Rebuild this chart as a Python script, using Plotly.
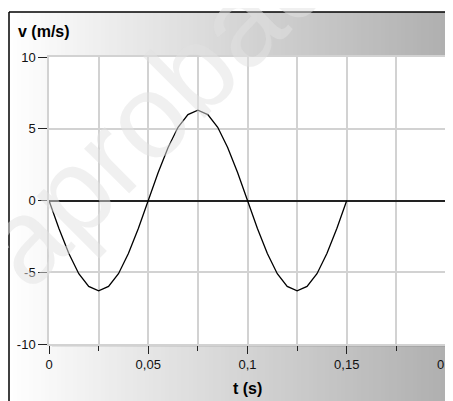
import plotly.graph_objects as go

# ---- data ----
t_values = [0.000, 0.005, 0.010, 0.015, 0.020, 0.025, 0.030, 0.035, 0.040, 0.045,
            0.050, 0.055, 0.060, 0.065, 0.070, 0.075, 0.080, 0.085, 0.090, 0.095,
            0.100, 0.105, 0.110, 0.115, 0.120, 0.125, 0.130, 0.135, 0.140, 0.145,
            0.150]
v_values = [0.0, -1.95, -3.70, -5.10, -5.99, -6.30, -5.99, -5.10, -3.70, -1.95,
            0.0, 1.95, 3.70, 5.10, 5.99, 6.30, 5.99, 5.10, 3.70, 1.95,
            0.0, -1.95, -3.70, -5.10, -5.99, -6.30, -5.99, -5.10, -3.70, -1.95,
            0.0]
x_ticks = [0, 0.05, 0.1, 0.15, 0.2]
x_tick_labels = ["0", "0,05", "0,1", "0,15", "0,2"]
x_minor_ticks = [0.025, 0.075, 0.125, 0.175]
y_ticks = [-10, -5, 0, 5, 10]
y_tick_labels = ["-10", "-5", "0", "5", "10"]
y_title = "v (m/s)"
x_title = "t (s)"
watermark = "aprobado"

W, H = 453, 401          # window size
OFF = 8                  # default page body margin
FW, FH = W - OFF, H - OFF
L, R, T, B = 49, 446, 57, 344  # plot area in window pixels


def px(x):
    return (x - L) / (R - L)


def py(y):
    return (B - y) / (B - T)


FONT = "Liberation Sans, Arial, sans-serif"

fig = go.Figure()
fig.add_trace(go.Scatter(x=t_values, y=v_values, mode="lines",
                         line=dict(color="black", width=1.3), hoverinfo="skip"))

shapes = []
# horizontal gradient background inside the frame
x0 = 9
n = 111
step = (W - x0) / n
for i in range(n):
    xa = x0 + i * step
    xb = xa + step + 0.6
    c = int(round(255 - (255 - 174) * ((xa + step / 2 - x0) / (W - x0))))
    shapes.append(dict(type="rect", xref="paper", yref="paper",
                       x0=px(xa), x1=px(xb), y0=py(H + 2), y1=py(12),
                       fillcolor=f"rgb({c},{c},{c})", line=dict(width=0), layer="below"))
# plot area shadow
shapes.append(dict(type="rect", xref="paper", yref="paper",
                   x0=px(L + 3), x1=px(R + 3), y0=py(B + 3), y1=py(T + 3),
                   fillcolor="rgba(0,0,0,0.08)", line=dict(width=0), layer="below"))
# white plot area
shapes.append(dict(type="rect", xref="paper", yref="paper",
                   x0=0, x1=1, y0=0, y1=1,
                   fillcolor="white", line=dict(width=0), layer="below"))
# frame lines
shapes.append(dict(type="line", xref="paper", yref="paper",
                   x0=px(9), x1=px(W + 2), y0=py(12), y1=py(12),
                   line=dict(color="black", width=1.5), layer="above"))
shapes.append(dict(type="line", xref="paper", yref="paper",
                   x0=px(9), x1=px(9), y0=py(12), y1=py(H + 2),
                   line=dict(color="black", width=1.5), layer="above"))

annotations = [
    dict(text=f"<b>{y_title}</b>", xref="paper", yref="paper", x=px(16), y=py(31),
         xanchor="left", yanchor="middle", showarrow=False,
         font=dict(family=FONT, size=16, color="black")),
    dict(text=f"<b>{x_title}</b>", xref="paper", yref="paper", x=px(247), y=py(388),
         xanchor="center", yanchor="middle", showarrow=False,
         font=dict(family=FONT, size=16, color="black")),
    dict(text=watermark, xref="paper", yref="paper", x=px(178), y=py(85),
         xanchor="center", yanchor="middle", showarrow=False, textangle=-45,
         font=dict(family=FONT, size=120, color="rgba(225,225,225,0.5)")),
]

grid_color = "#d2d2d2"
fig.update_layout(
    width=FW, height=FH,
    margin=dict(l=L - OFF, r=W - R, t=T - OFF, b=H - B, pad=0, autoexpand=False),
    paper_bgcolor="white", plot_bgcolor="rgba(0,0,0,0)",
    showlegend=False,
    shapes=shapes, annotations=annotations,
    font=dict(family=FONT, size=13, color="#111"),
    xaxis=dict(range=[0, 0.2], tickmode="array", tickvals=x_ticks, ticktext=x_tick_labels,
               ticks="outside", ticklen=8, tickwidth=1.2, tickcolor="#222",
               ticklabeloverflow="allow", automargin=False,
               showgrid=True, gridcolor=grid_color, gridwidth=1.5,
               showline=True, linecolor=grid_color, linewidth=1.5, mirror=True,
               zeroline=False, fixedrange=True,
               minor=dict(tickvals=x_minor_ticks, ticks="outside", ticklen=5,
                          tickwidth=1.2, tickcolor="#222", showgrid=True,
                          gridcolor=grid_color, gridwidth=1.5)),
    yaxis=dict(range=[-10, 10], tickmode="array", tickvals=y_ticks, ticktext=y_tick_labels,
               ticks="outside", ticklen=9, tickwidth=1.2, tickcolor="#222",
               automargin=False,
               showgrid=True, gridcolor=grid_color, gridwidth=1.5,
               showline=True, linecolor=grid_color, linewidth=1.5, mirror=True,
               zeroline=True, zerolinecolor="#222", zerolinewidth=1.5, fixedrange=True),
)

fig.write_html("out.html")
